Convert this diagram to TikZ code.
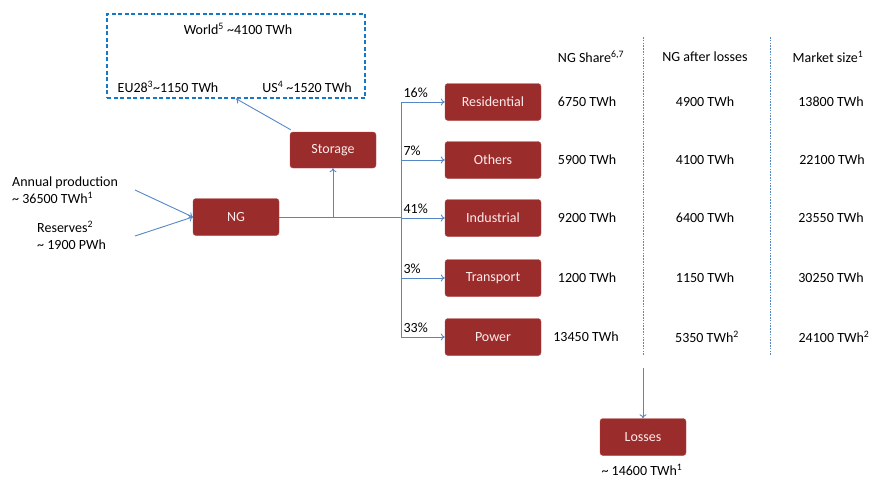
\documentclass[tikz,border=0pt]{standalone}
\usepackage{fontspec}
\setmainfont{Carlito}
\usetikzlibrary{arrows.meta}
\definecolor{ngred}{RGB}{155,44,44}
\definecolor{ngedge}{RGB}{175,70,70}
\definecolor{flowblue}{RGB}{85,135,200}
\definecolor{boxblue}{RGB}{20,120,200}
\tikzset{
	box/.style={draw=ngedge, fill=ngred, rounded corners=3pt, text=white!92!red,
		minimum width=86, minimum height=37, font=\fontsize{14}{16}\selectfont},
	sector/.style={box, minimum width=96},
	flow/.style={draw=flowblue, line width=0.9pt, -{To[length=4pt,width=7pt]}},
	trunk/.style={draw=flowblue, line width=0.9pt},
	lbl/.style={font=\fontsize{14}{17}\selectfont, inner sep=0pt},
	sep/.style={draw=flowblue, dash pattern=on 1.6pt off 1.2pt, line width=0.7pt}
}
\begin{document}
\begin{tikzpicture}[x=1pt, y=-1pt]
			%%%%% START %%%%%
			\useasboundingbox (0,0) rectangle (872,479);
			
			% storage box (dashed)
			\node[draw=boxblue, dashed, dash pattern=on 4pt off 2.5pt, line width=1.3pt,
				minimum width=258, minimum height=84, inner sep=0pt] (world) at (236,56) {};
			\node[lbl] (worldtxt) at (238,29) {World\textsuperscript{5} \textasciitilde4100 TWh};
			\node[lbl] (eu) at (168,87) {EU28\textsuperscript{3}\textasciitilde1150 TWh};
			\node[lbl] (us) at (307,87) {US\textsuperscript{4} \textasciitilde1520 TWh};
			
			% sources
			\node[lbl, anchor=west, align=left] (annual) at (12,190) {Annual production\\\textasciitilde{} 36500 TWh\textsuperscript{1}};
			\node[lbl, anchor=west, align=left] (reserves) at (37,235) {Reserves\textsuperscript{2}\\\textasciitilde{} 1900 PWh};
			\coordinate (annualend) at (135,190);
			\coordinate (reservesend) at (135,236);
			
			\node[box] (ng) at (236,217) {NG};
			\node[box, minimum height=36] (storage) at (333,150) {Storage};
			
			\draw[flow] (annualend) -- (ng.west);
			\draw[flow] (reservesend) -- (ng.west);
			
			\coordinate (split) at (401,217);
			\coordinate (up) at (333,217);
			\draw[trunk] (ng.east) -- (split);
			\draw[flow] (up) -- (storage.south);
			\draw[flow] ([xshift=1pt,yshift=2pt]storage.north west) -- (world.south);
			
			% sectors
			\node[sector] (res) at (493,102) {Residential};
			\node[sector] (oth) at (493,160) {Others};
			\node[sector] (ind) at (493,218) {Industrial};
			\node[sector] (tra) at (493,278) {Transport};
			\node[sector] (pow) at (493,337) {Power};
			
			\draw[trunk] (split |- res) -- (split |- pow);
			\draw[flow] (split |- res) -- node[lbl, pos=0.05, anchor=south west, yshift=4pt] (p1) {16\%} (res.west);
			\draw[flow] (split |- oth) -- node[lbl, pos=0.05, anchor=south west, yshift=4pt] (p2) {7\%} (oth.west);
			\draw[flow] (split |- ind) -- node[lbl, pos=0.05, anchor=south west, yshift=4pt] (p3) {41\%} (ind.west);
			\draw[flow] (split |- tra) -- node[lbl, pos=0.05, anchor=south west, yshift=4pt] (p4) {3\%} (tra.west);
			\draw[flow] (split |- pow) -- node[lbl, pos=0.05, anchor=south west, yshift=4pt] (p5) {33\%} (pow.west);
			
			% table
			\node[lbl] (h1) at (591,57) {NG Share\textsuperscript{6,7}};
			\node[lbl] (h2) at (705,57) {NG after losses};
			\node[lbl] (h3) at (828,57) {Market size\textsuperscript{1}};
			
			\draw[sep] (643,37) -- (643,355);
			\draw[sep] (770,37) -- (770,355);
			
			\node[lbl] (a1) at (587,102) {6750 TWh};
			\node[lbl] (a2) at (587,160) {5900 TWh};
			\node[lbl] (a3) at (587,218) {9200 TWh};
			\node[lbl] (a4) at (587,278) {1200 TWh};
			\node[lbl] (a5) at (586,337) {13450 TWh};
			
			\node[lbl] (b1) at (705,102) {4900 TWh};
			\node[lbl] (b2) at (705,160) {4100 TWh};
			\node[lbl] (b3) at (705,218) {6400 TWh};
			\node[lbl] (b4) at (705,278) {1150 TWh};
			\node[lbl] (b5) at (707,337) {5350 TWh\textsuperscript{2}};
			
			\node[lbl] (c1) at (831,102) {13800 TWh};
			\node[lbl] (c2) at (832,160) {22100 TWh};
			\node[lbl] (c3) at (831,218) {23550 TWh};
			\node[lbl] (c4) at (831,278) {30250 TWh};
			\node[lbl] (c5) at (834,337) {24100 TWh\textsuperscript{2}};
			
			% losses
			\node[box] (loss) at (643,437) {Losses};
			\coordinate (losstop) at (643,368);
			\draw[flow] (losstop) -- (loss.north);
			\node[lbl] (losstxt) at (642,470) {\textasciitilde{} 14600 TWh\textsuperscript{1}};
			
			%%%%% END %%%%%
		\end{tikzpicture}
\end{document}
